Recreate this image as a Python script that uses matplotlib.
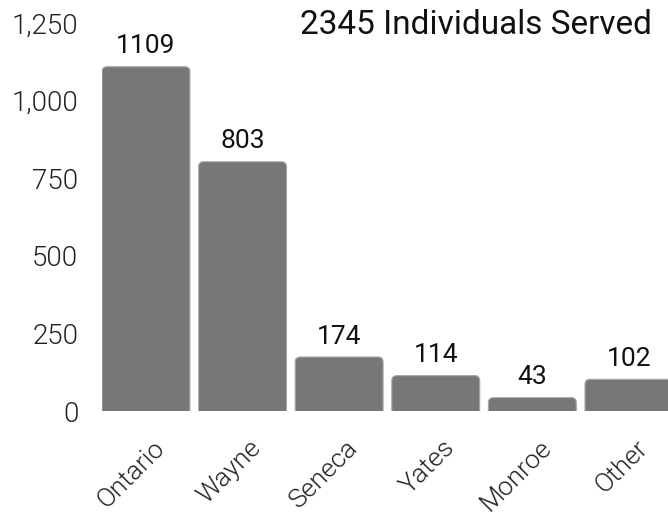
import matplotlib
matplotlib.use("Agg")
import matplotlib.pyplot as plt
from matplotlib.patches import FancyBboxPatch
from matplotlib.transforms import ScaledTranslation

categories = ["Ontario", "Wayne", "Seneca", "Yates", "Monroe", "Other"]
values = [1109, 803, 174, 114, 43, 102]
yticks = [0, 250, 500, 750, 1000, 1250]
ytick_labels = ["0", "250", "500", "750", "1,000", "1,250"]
title = "2345 Individuals Served"

FONT = "Roboto"
W, H = 668, 525
fig = plt.figure(figsize=(W / 100, H / 100), dpi=100)
left, right, bottom, top = 102, 668, 411, 23
ax = fig.add_axes([left / W, (H - bottom) / H, (right - left) / W, (bottom - top) / H])

width = 0.91
x = list(range(len(categories)))
bars = ax.bar(x, values, width=width, color="none", edgecolor="none")
ax.set_xlim(-width / 2, (right - left) / 96.6 - width / 2)
ax.set_ylim(0, 1250)

xunit_per_px = (ax.get_xlim()[1] - ax.get_xlim()[0]) / (right - left)
yunit_per_px = 1250 / (bottom - top)
aspect = yunit_per_px / xunit_per_px
r = 5 * xunit_per_px
for b in bars:
    x0, w, h = b.get_x(), b.get_width(), b.get_height()
    ext = 8 * yunit_per_px
    p = FancyBboxPatch((x0, -ext), w, h + ext,
                       boxstyle=f"round,pad=0,rounding_size={r}",
                       mutation_aspect=aspect,
                       facecolor="#777777", edgecolor="#a8a8a8", linewidth=0.8)
    ax.add_patch(p)

for xi, v in zip(x, values):
    ax.annotate(str(v), (xi, v), xytext=(0, 6), textcoords="offset points",
                ha="center", va="bottom", fontsize=19, family=FONT, color="#111111")

for s in ax.spines.values():
    s.set_visible(False)
ax.set_yticks(yticks)
ax.set_yticklabels(ytick_labels, fontsize=20, family=FONT, fontweight=300, color="#222222")
ax.set_xticks(x)
ax.set_xticklabels(categories, rotation=45, ha="right", va="center", rotation_mode="anchor",
                   fontsize=19, family=FONT, fontweight=300, color="#222222")
ax.tick_params(axis="both", length=0)
ax.tick_params(axis="y", pad=17)
ax.tick_params(axis="x", pad=0)
off = ScaledTranslation(15 / 100, -33 / 100, fig.dpi_scale_trans)
for lbl in ax.get_xticklabels():
    lbl.set_transform(lbl.get_transform() + off)

fig.text(652 / W, 1 - 25 / H, title, ha="right", va="center", fontsize=24, family=FONT, color="#111111")

fig.savefig("out.png", dpi=100)
